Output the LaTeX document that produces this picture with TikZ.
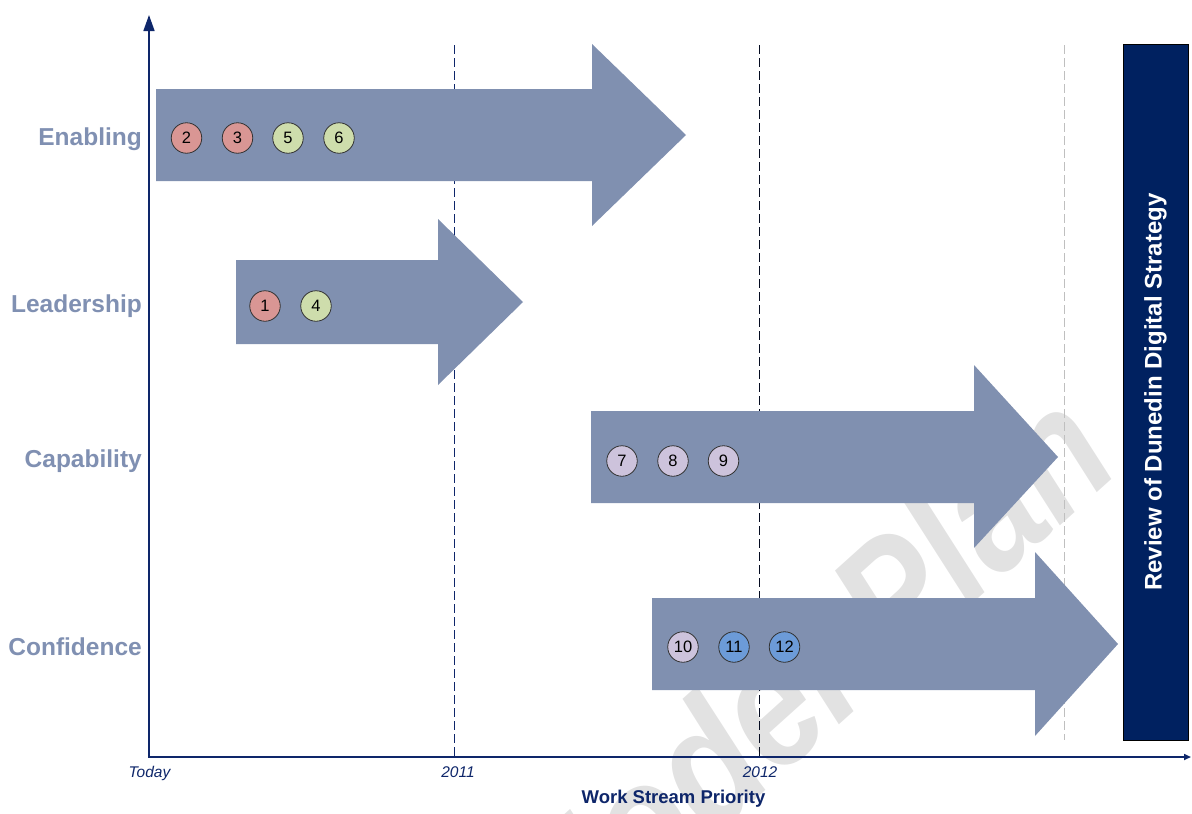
\documentclass[tikz,border=0pt]{standalone}
\usepackage{fontspec}
\setmainfont{Liberation Sans}
\usetikzlibrary{arrows.meta}

\definecolor{streamfill}{RGB}{128,144,176}
\definecolor{labelcol}{RGB}{128,144,178}
\definecolor{axisnavy}{RGB}{14,38,106}
\definecolor{boxnavy}{RGB}{0,33,96}
\definecolor{redball}{RGB}{217,150,148}
\definecolor{greenball}{RGB}{206,221,172}
\definecolor{lilacball}{RGB}{205,195,220}
\definecolor{blueball}{RGB}{108,155,216}
\definecolor{wmgray}{RGB}{226,226,226}

\begin{document}
\begin{tikzpicture}[x=1pt,y=-1pt,
  stream/.style={fill=streamfill},
  rowlabel/.style={anchor=base east,inner sep=0pt,text=labelcol,
    font=\fontsize{24.5}{28}\selectfont\bfseries},
  ball/.style={circle,draw=black!80,line width=0.8pt,minimum size=30.5pt,
    inner sep=0pt,font=\fontsize{16.5}{20}\selectfont},
  ticklabel/.style={anchor=base,inner sep=0pt,text=axisnavy,
    font=\fontsize{15.5}{18}\selectfont\itshape},
  axisline/.style={draw=axisnavy,line width=1.6pt},
  yearline/.style={line width=0.9pt,dash pattern=on 9pt off 4pt}]

\useasboundingbox (0,0) rectangle (1192,814);

% watermark behind everything
\node[rotate=42,xscale=0.85,anchor=base east,inner sep=0pt,text=wmgray,
  font=\fontsize{170}{170}\selectfont\bfseries\itshape] (wm) at (1124,468)
  {Model Plan};

% year separators
\draw[yearline,draw=axisnavy] (454,45) -- (454,757);
\draw[yearline,draw=black!70!axisnavy] (759,45) -- (759,757);
\draw[yearline,draw=black!25] (1064,45) -- (1064,740);

% work stream arrows
\fill[stream] (156,89) -- (592,89) -- (592,44) -- (686,135) -- (592,226)
  -- (592,181) -- (156,181) -- cycle;
\fill[stream] (236,260) -- (438,260) -- (438,219) -- (523,302) -- (438,385)
  -- (438,344) -- (236,344) -- cycle;
\fill[stream] (591,411) -- (974,411) -- (974,365) -- (1058,457) -- (974,548)
  -- (974,503) -- (591,503) -- cycle;
\fill[stream] (652,598) -- (1035,598) -- (1035,552) -- (1118,644) -- (1035,736)
  -- (1035,690) -- (652,690) -- cycle;

% row labels
\node[rowlabel] (enabling) at (142,145.7) {Enabling};
\node[rowlabel] (leadership) at (142,312.7) {Leadership};
\node[rowlabel] (capability) at (142,467.3) {Capability};
\node[rowlabel] (confidence) at (142,655.3) {Confidence};

% numbered initiatives
\node[ball,fill=redball] (b2) at (186.5,138) {2};
\node[ball,fill=redball] (b3) at (237.5,138) {3};
\node[ball,fill=greenball] (b5) at (288,138) {5};
\node[ball,fill=greenball] (b6) at (339,138) {6};

\node[ball,fill=redball] (b1) at (265,306) {1};
\node[ball,fill=greenball] (b4) at (316,306) {4};

\node[ball,fill=lilacball] (b7) at (622,461) {7};
\node[ball,fill=lilacball] (b8) at (673,461) {8};
\node[ball,fill=lilacball] (b9) at (723.5,461) {9};

\node[ball,fill=lilacball] (b10) at (683,647) {10};
\node[ball,fill=blueball] (b11) at (734,647) {11};
\node[ball,fill=blueball] (b12) at (784.5,647) {12};

% review box
\node[rotate=90,draw=black,line width=0.8pt,fill=boxnavy,
  minimum width=696pt,minimum height=65pt,inner sep=0pt,text=white,
  font=\fontsize{24}{28}\selectfont\bfseries] (review) at (1155.5,392)
  {Review of Dunedin Digital Strategy};

% axes
\coordinate (origin) at (149,757);
\coordinate (ytop) at (149,15);
\coordinate (xend) at (1191,757);
\draw[axisline,{Triangle[length=16pt,width=11pt]}-{Triangle[length=7pt,width=6pt]}]
  (ytop) -- (origin) -- (xend);

% time axis labels
\node[ticklabel] (today) at (149.5,777.5) {Today};
\node[ticklabel] (y2011) at (458,777.5) {2011};
\node[ticklabel] (y2012) at (760,777.5) {2012};
\node[anchor=base,inner sep=0pt,text=axisnavy,
  font=\fontsize{18.5}{22}\selectfont\bfseries] (xtitle) at (673.5,803)
  {Work Stream Priority};
\end{tikzpicture}
\end{document}
